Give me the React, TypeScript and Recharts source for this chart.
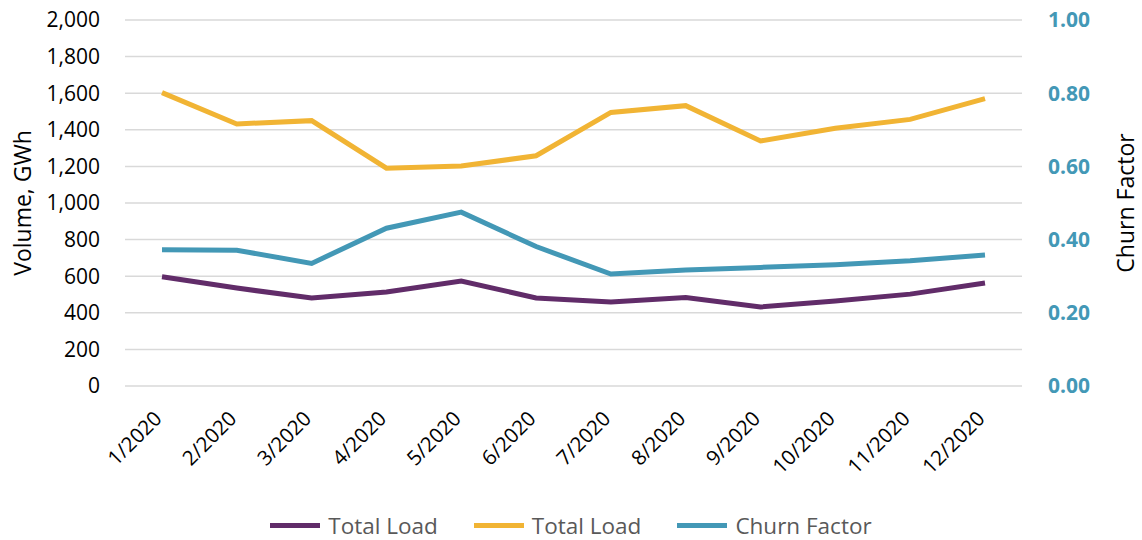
import { CartesianGrid, ComposedChart, Legend, Line, XAxis, YAxis } from "recharts";

// values
const months = ["1/2020", "2/2020", "3/2020", "4/2020", "5/2020", "6/2020", "7/2020", "8/2020", "9/2020", "10/2020", "11/2020", "12/2020"];
const totalLoadLow = [597, 535, 481, 514, 574, 481, 459, 484, 432, 465, 502, 563];
const totalLoadHigh = [1603, 1432, 1450, 1190, 1202, 1258, 1495, 1532, 1339, 1408, 1457, 1570];
const churnFactor = [0.372, 0.371, 0.335, 0.431, 0.475, 0.381, 0.306, 0.317, 0.324, 0.331, 0.342, 0.358];
const volumeTicks = [0, 200, 400, 600, 800, 1000, 1200, 1400, 1600, 1800, 2000];
const churnTicks = [0, 0.2, 0.4, 0.6, 0.8, 1.0];

const data = months.map((month, i) => ({
  month,
  low: totalLoadLow[i],
  high: totalLoadHigh[i],
  churn: churnFactor[i],
}));

const colors = {
  low: "#612c69",
  high: "#f1b434",
  churn: "#4398b6",
};

const FONT = "'Open Sans', 'Noto Sans', sans-serif";

const legendItems = [
  { label: "Total Load", color: colors.low },
  { label: "Total Load", color: colors.high },
  { label: "Churn Factor", color: colors.churn },
];

const MonthTick = ({ x, y, payload }: any) => (
  <g transform={`translate(${x},${y})`}>
    <text x={1} y={34} textAnchor="end" transform="rotate(-45, 1, 34)" fontSize={20.5} fill="#000" fontFamily={FONT}>
      {payload.value}
    </text>
  </g>
);

const SideLabel = ({ viewBox, value, dx }: any) => {
  const cx = viewBox.x + dx;
  const cy = viewBox.y + viewBox.height / 2;
  return (
    <text x={cx} y={cy} transform={`rotate(-90, ${cx}, ${cy})`} textAnchor="middle" dominantBaseline="central" fontSize={23} fill="#000" fontFamily={FONT}>
      {value}
    </text>
  );
};

const CustomLegend = () => (
  <div style={{ height: 30, display: "flex", alignItems: "center", justifyContent: "center", fontFamily: FONT }}>
    {legendItems.map((item, i) => (
      <div key={i} style={{ display: "flex", alignItems: "center", marginLeft: i ? 36 : 0 }}>
        <div style={{ width: 50, height: 5, background: item.color, marginRight: 8 }} />
        <span style={{ fontSize: 22.5, color: "#595959" }}>{item.label}</span>
      </div>
    ))}
  </div>
);

export default function App() {
  return (
    <div style={{ position: "absolute", left: 0, top: 0, background: "#fff" }}>
      <ComposedChart width={1142} height={540} data={data} margin={{ top: 20, right: 0, left: 0, bottom: 0 }} style={{ fontFamily: FONT }}>
        <CartesianGrid yAxisId="left" vertical={false} stroke="#d9d9d9" strokeWidth={1.5} />
        <XAxis
          dataKey="month"
          axisLine={false}
          tickLine={false}
          tickSize={0}
          tickMargin={0}
          height={124}
          interval={0}
          padding={{ left: 37, right: 37 }}
          tick={<MonthTick />}
        />
        <YAxis
          yAxisId="left"
          width={125}
          domain={[0, 2000]}
          ticks={volumeTicks}
          axisLine={false}
          tickLine={false}
          tickSize={0}
          tickMargin={25}
          tickFormatter={(v: number) => v.toLocaleString("en-US")}
          tick={{ fontSize: 21, fill: "#000" }}
          label={<SideLabel value="Volume, GWh" dx={22} />}
        />
        <YAxis
          yAxisId="right"
          orientation="right"
          width={120}
          domain={[0, 1]}
          ticks={churnTicks}
          axisLine={false}
          tickLine={false}
          tickSize={0}
          tickMargin={26}
          tickFormatter={(v: number) => v.toFixed(2)}
          tick={{ fontSize: 21, fill: colors.churn, fontWeight: 700 }}
          label={<SideLabel value="Churn Factor" dx={103} />}
        />
        <Legend verticalAlign="bottom" content={<CustomLegend />} wrapperStyle={{ margin: 0 }} />
        <Line yAxisId="left" type="linear" dataKey="low" name="Total Load" stroke={colors.low} strokeWidth={5} dot={false} isAnimationActive={false} />
        <Line yAxisId="left" type="linear" dataKey="high" name="Total Load" stroke={colors.high} strokeWidth={5} dot={false} isAnimationActive={false} />
        <Line yAxisId="right" type="linear" dataKey="churn" name="Churn Factor" stroke={colors.churn} strokeWidth={5} dot={false} isAnimationActive={false} />
      </ComposedChart>
    </div>
  );
}
